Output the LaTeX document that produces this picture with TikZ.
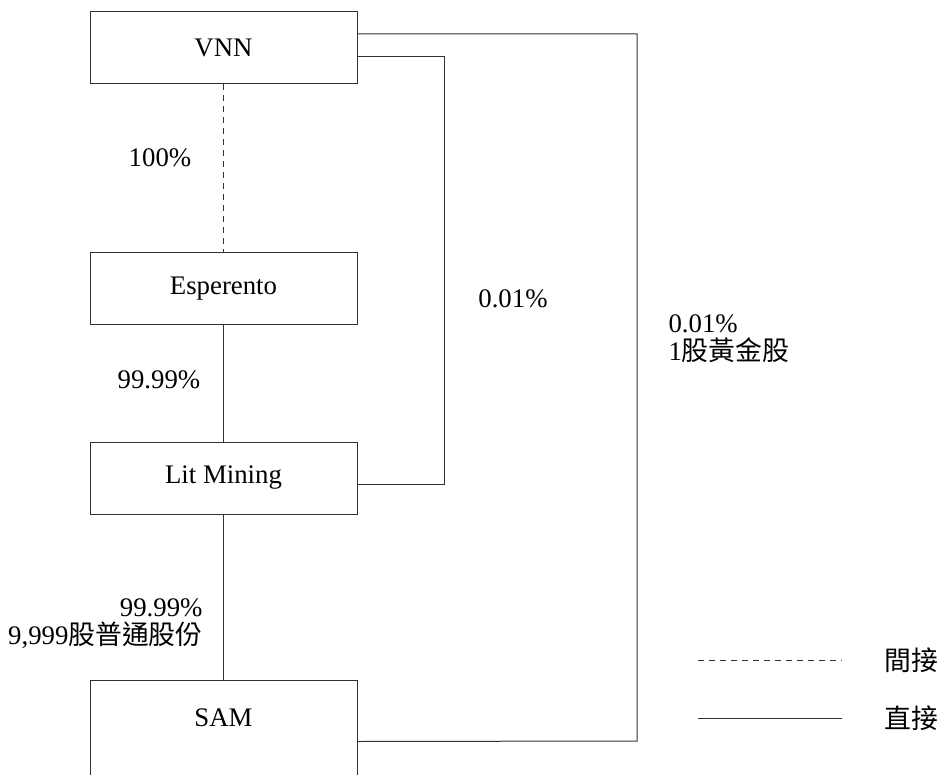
\documentclass[tikz,border=0pt]{standalone}
\usepackage{fontspec}
\setmainfont{Liberation Serif}
\newfontfamily\cjk{Noto Sans CJK TC}
\begin{document}
\begin{tikzpicture}[x=1pt, y=-1pt, line width=1pt,
    font=\fontsize{26.8}{28}\selectfont,
    company/.style={draw=linecolor, minimum width=267pt, minimum height=72pt, inner sep=0pt},
    share/.style={inner sep=0pt},
    indirect/.style={draw=linecolor, dash pattern=on 6pt off 5pt},
    direct/.style={draw=linecolor}]
    % Define colors
    \definecolor{linecolor}{RGB}{50,50,50}

    % Page frame (SAM box runs off the bottom)
    \clip (0,0) rectangle (939,775);

    % Companies
    \node[company] (vnn) at (223.5,48) {VNN};
    \node[company] (esperento) at (223.5,288.5) {Esperento};
    \node[company] (lit) at (223.5,478) {Lit Mining};
    \node[company, minimum height=150pt, anchor=north] (sam) at (223.5,680) {};
    \node (samname) at (223.5,718) {SAM};

    % Holdings down the chain
    \draw[indirect] (vnn) -- (esperento);
    \draw[direct] (esperento) -- (lit);
    \draw[direct] (lit) -- (sam);

    % Holdings from VNN on the right
    \draw[direct] ([yshift=-9pt]vnn.east) -| (444,484) -- ([yshift=-6pt]lit.east);
    \draw[direct] ([yshift=14pt]vnn.east) -| (637,741) -- ([yshift=14pt]sam.east);

    % Shares
    \node[share] (vnnesp) at (160,158) {100\%};
    \node[share] (esplit) at (159,380) {99.99\%};
    \node[share, align=right, anchor=east] (litsam) at (203,624) {99.99\%\\9,999{\cjk 股普通股份}};
    \node[share] (vnnlit) at (513,299) {0.01\%};
    \node[share, align=left, anchor=west] (vnnsam) at (668,339) {0.01\%\\1{\cjk 股黃金股}};

    % Legend
    \coordinate (dashstart) at (698,660);
    \coordinate (dashend) at (842,660);
    \draw[indirect] (dashstart) -- (dashend);
    \node (indirectkey) at (911,660) {\cjk 間接};

    \coordinate (solidstart) at (698,718);
    \coordinate (solidend) at (842,718);
    \draw[direct] (solidstart) -- (solidend);
    \node (directkey) at (911,718) {\cjk 直接};

\end{tikzpicture}
\end{document}
